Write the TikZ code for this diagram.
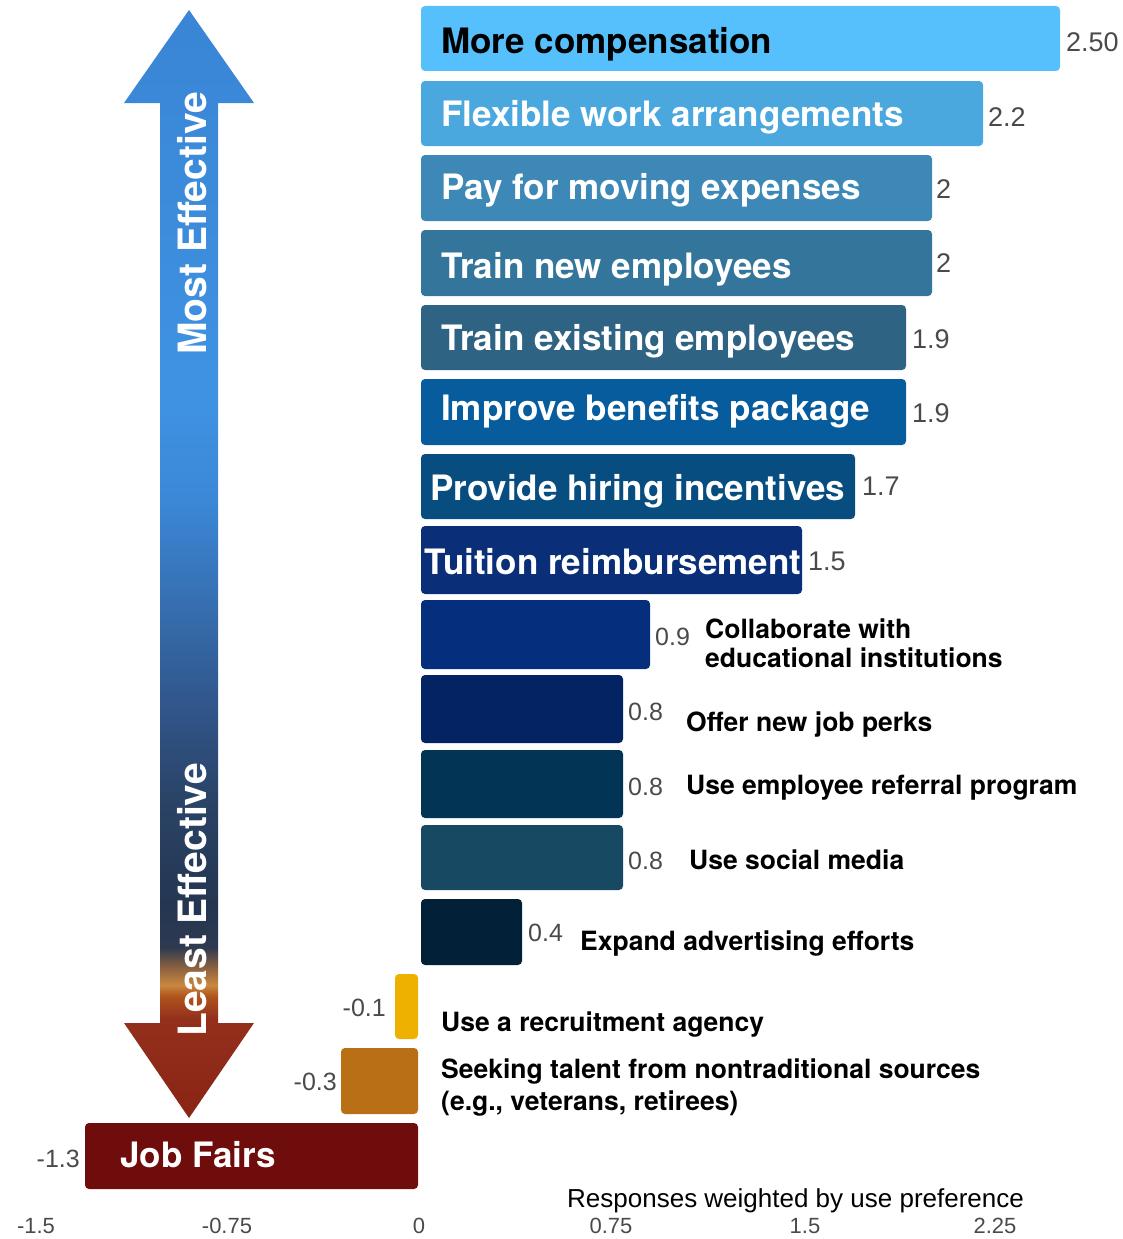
\documentclass[tikz,border=0pt]{standalone}
\usepackage{fontspec}
\setmainfont{TeX Gyre Heros}
\newfontfamily\numfont{Liberation Sans}

\definecolor{compcol}{HTML}{56C0FD}
\definecolor{flexcol}{HTML}{4AA8DF}
\definecolor{movecol}{HTML}{3D88B6}
\definecolor{newcol}{HTML}{34759C}
\definecolor{existcol}{HTML}{2E6384}
\definecolor{benefcol}{HTML}{065C9C}
\definecolor{hirecol}{HTML}{074D80}
\definecolor{tuitcol}{HTML}{0A2E78}
\definecolor{collcol}{HTML}{052F7C}
\definecolor{perkcol}{HTML}{032363}
\definecolor{refcol}{HTML}{023455}
\definecolor{socialcol}{HTML}{174963}
\definecolor{advcol}{HTML}{022139}
\definecolor{agencycol}{HTML}{EEB100}
\definecolor{seekcol}{HTML}{B86F15}
\definecolor{faircol}{HTML}{6E0D0C}
\definecolor{valgray}{HTML}{4A4A4A}
% colours along the arrow, bottom to top
\definecolor{arrA}{HTML}{8A2414}
\definecolor{arrB}{HTML}{93301C}
\definecolor{arrC}{HTML}{B0541E}
\definecolor{arrD}{HTML}{C8883F}
\definecolor{arrE}{HTML}{8A6040}
\definecolor{arrF}{HTML}{2E3A50}
\definecolor{arrG}{HTML}{243651}
\definecolor{arrH}{HTML}{2A4366}
\definecolor{arrI}{HTML}{31588E}
\definecolor{arrJ}{HTML}{3670B2}
\definecolor{arrK}{HTML}{3C88D8}
\definecolor{arrL}{HTML}{3F92E2}
\definecolor{arrM}{HTML}{3A85D5}

\pgfdeclareverticalshading{effshade}{100bp}{%
  color(0bp)=(arrA); color(25bp)=(arrA); color(29.5bp)=(arrB);
  color(30.5bp)=(arrC); color(31bp)=(arrD); color(31.8bp)=(arrE);
  color(32.7bp)=(arrF); color(34.5bp)=(arrG); color(39.3bp)=(arrH);
  color(44bp)=(arrI); color(48.4bp)=(arrJ); color(53bp)=(arrK);
  color(57.4bp)=(arrL); color(75bp)=(arrM); color(100bp)=(arrM)}

\begin{document}
\begin{tikzpicture}[x=1pt,y=-1pt,
  bar/.style={rounded corners=4pt},
  barlab/.style={anchor=base west,inner sep=0pt,text=white,font=\fontsize{35}{40}\selectfont\bfseries},
  sidelab/.style={anchor=base west,inner sep=0pt,font=\fontsize{26.5}{30}\selectfont\bfseries},
  vallab/.style={anchor=base west,inner sep=0pt,text=valgray,font=\numfont\fontsize{27}{30}\selectfont},
  negval/.style={vallab,anchor=base east},
  ticklab/.style={anchor=base,inner sep=0pt,text=valgray,font=\numfont\fontsize{22}{24}\selectfont},
  arrowlab/.style={anchor=base west,inner sep=0pt,rotate=90,text=white,font=\fontsize{39}{44}\selectfont\bfseries}]
\useasboundingbox (0,0) rectangle (1123,1239);

% effectiveness arrow
\shade[shading=effshade] (189,10) -- (254,103) -- (218,103) -- (218,1023) -- (254,1023)
  -- (189,1118) -- (124,1023) -- (160,1023) -- (160,103) -- (124,103) -- cycle;
\node[arrowlab] (most) at (206,355) {Most Effective};
\node[arrowlab] (least) at (206,1037) {Least Effective};

% bars
\fill[bar,compcol] (421,6) rectangle (1060,71);
\fill[bar,flexcol] (421,81) rectangle (983,146);
\fill[bar,movecol] (421,155) rectangle (932,221);
\fill[bar,newcol] (421,230) rectangle (932,296);
\fill[bar,existcol] (421,305) rectangle (906,370);
\fill[bar,benefcol] (421,379) rectangle (906,445);
\fill[bar,hirecol] (421,454) rectangle (855,519);
\fill[bar,tuitcol] (421,526) rectangle (802,594);
\fill[bar,collcol] (421,600) rectangle (650,669);
\fill[bar,perkcol] (421,675) rectangle (623,743);
\fill[bar,refcol] (421,750) rectangle (623,818);
\fill[bar,socialcol] (421,825) rectangle (623,890);
\fill[bar,advcol] (421,899) rectangle (522,965);
\fill[bar,agencycol] (395,974) rectangle (418,1039);
\fill[bar,seekcol] (341,1048) rectangle (418,1114);
\fill[bar,faircol] (85,1123) rectangle (418,1189);

% labels inside the bars
\node[barlab,text=black] (comp) at (441,54) {More compensation};
\node[barlab] (flex) at (441,126) {Flexible work arrangements};
\node[barlab] (move) at (441,199) {Pay for moving expenses};
\node[barlab] (trainnew) at (441,278) {Train new employees};
\node[barlab] (trainexist) at (441,350) {Train existing employees};
\node[barlab] (benefits) at (441,420) {Improve benefits package};
\node[barlab] (hiring) at (430,500) {Provide hiring incentives};
\node[barlab] (tuition) at (424,574) {Tuition reimbursement};
\node[barlab] (fairs) at (120,1167) {Job Fairs};

% labels beside the bars
\node[sidelab] (coll) at (705,638) {Collaborate with};
\node[sidelab] (collb) at (705,667) {educational institutions};
\node[sidelab] (perks) at (686,731) {Offer new job perks};
\node[sidelab] (referral) at (686,794) {Use employee referral program};
\node[sidelab] (social) at (689,869) {Use social media};
\node[sidelab] (advert) at (580,950) {Expand advertising efforts};
\node[sidelab] (agency) at (441,1031) {Use a recruitment agency};
\node[sidelab] (seek) at (441,1078) {Seeking talent from nontraditional sources};
\node[sidelab] (seekb) at (441,1110) {(e.g., veterans, retirees)};

% values
\node[vallab] (v-comp) at (1066,52) {2.50};
\node[vallab] (v-flex) at (988,126) {2.2};
\node[vallab] (v-move) at (936,198) {2};
\node[vallab] (v-new) at (936,272) {2};
\node[vallab] (v-exist) at (912,348) {1.9};
\node[vallab] (v-benef) at (912,422) {1.9};
\node[vallab] (v-hire) at (862,495) {1.7};
\node[vallab] (v-tuit) at (808,570) {1.5};
\node[vallab,font=\numfont\fontsize{25}{28}\selectfont] (v-coll) at (655,645) {0.9};
\node[vallab,font=\numfont\fontsize{25}{28}\selectfont] (v-perk) at (628,720) {0.8};
\node[vallab,font=\numfont\fontsize{25}{28}\selectfont] (v-ref) at (628,795) {0.8};
\node[vallab,font=\numfont\fontsize{25}{28}\selectfont] (v-social) at (628,869) {0.8};
\node[vallab,font=\numfont\fontsize{25}{28}\selectfont] (v-adv) at (528,941) {0.4};
\node[negval,font=\numfont\fontsize{25}{28}\selectfont] (v-agency) at (386,1016) {-0.1};
\node[negval,font=\numfont\fontsize{25}{28}\selectfont] (v-seek) at (337,1090) {-0.3};
\node[negval,font=\numfont\fontsize{25}{28}\selectfont] (v-fairs) at (80,1167) {-1.3};

% axis
\node[vallab,text=black,font=\numfont\fontsize{26}{28}\selectfont] (axtitle) at (567,1207) {Responses weighted by use preference};
\node[ticklab] (t1) at (36,1233) {-1.5};
\node[ticklab] (t2) at (227,1233) {-0.75};
\node[ticklab] (t3) at (419,1233) {0};
\node[ticklab] (t4) at (611,1233) {0.75};
\node[ticklab] (t5) at (805,1233) {1.5};
\node[ticklab] (t6) at (995,1233) {2.25};
\end{tikzpicture}
\end{document}
